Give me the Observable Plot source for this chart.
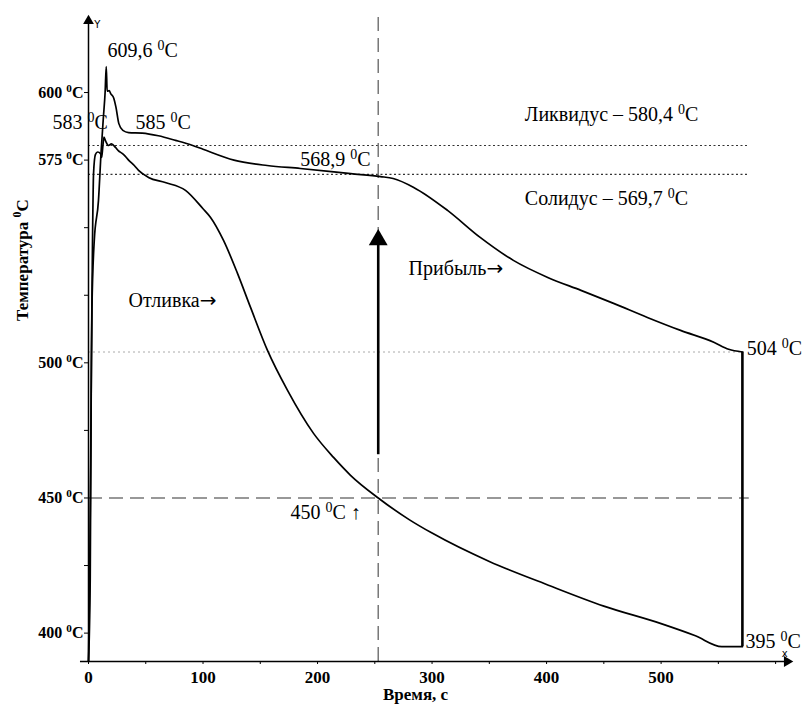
<!DOCTYPE html>
<html><head><meta charset="utf-8">
<script src="https://cdn.jsdelivr.net/npm/d3@7"></script>
<script src="https://cdn.jsdelivr.net/npm/@observablehq/plot@0.6"></script>
<style>html,body{margin:0;padding:0;background:#fff}</style>
</head><body><div id="chart"></div>
<script>
// Отливка (casting) — time, s / temperature, °C
const castTime = [0, 1.5, 2.5, 3.5, 4.4, 6, 8, 10.5, 11.5, 12.5, 13.5, 15, 17.5, 20, 23.6, 26, 29.7, 32, 35, 40, 43.7, 52.4, 67, 84.7, 100, 106.6, 117.9, 130.1, 141.5, 156.3, 173.8, 196.5, 214, 228.8, 253, 280, 300, 350, 400, 450, 500, 530, 553, 571];
const castTemp = [389.5, 420, 500, 545, 570, 577, 578, 577.4, 576, 580, 583.5, 582, 580.4, 581, 579.7, 578.5, 577.4, 576.5, 575, 573, 571.2, 568.6, 566.7, 563.8, 557, 553.8, 545.3, 533.1, 520.5, 504.6, 489.8, 473.9, 465, 458.4, 450, 442, 437, 426.5, 418, 410, 403.5, 399, 395, 395];
// Прибыль (riser)
const riserTime = [0, 1, 2, 3, 5, 8.7, 11, 13, 14.5, 15.5, 16.3, 18, 19.5, 22, 24, 26.5, 30, 35, 47, 61, 76, 91, 100, 127, 156, 185, 229, 255, 266, 284, 313.5, 342, 371, 401, 430, 458.5, 488, 517, 546, 559, 571];
const riserTemp = [389.5, 420, 470, 520, 545, 560, 578, 590.8, 600, 609.6, 600.5, 600.7, 599.5, 598, 594.5, 588.5, 586, 585.2, 585, 584, 582.3, 580.4, 579, 575, 573, 571.9, 570, 568.9, 568.2, 564.9, 556.4, 546.4, 537.9, 531.6, 526.8, 522, 516.8, 512, 507.6, 505, 504];

const xTickLabels = [0, 100, 200, 300, 400, 500];
const xMinorTicks = [0, 50, 100, 150, 200, 250, 300, 350, 400, 450, 500, 550, 600];
const yTickLabels = [400, 450, 500, 575, 600];
const yMinorTicks = [400, 425, 450, 475, 500, 525, 550, 575, 600];

const liquidus = 580.4, solidus = 569.7, riserEnd = 504, castEnd = 395, castMark = 450;
const markTime = 253, endTime = 571;

const annotations = [
  {t: 16.6, T: 615.5, s: "609,6 ⁰C"},
  {t: -31.4, T: 589, s: "583 ⁰C"},
  {t: 41, T: 589, s: "585 ⁰C"},
  {t: 185, T: 575.2, s: "568,9 ⁰C"},
  {t: 381, T: 591.9, s: "Ликвидус – 580,4 ⁰C"},
  {t: 381, T: 560.8, s: "Солидус – 569,7 ⁰C"},
  {t: 279.5, T: 535, s: "Прибыль→"},
  {t: 35, T: 523, s: "Отливка→"},
  {t: 574.7, T: 505.4, s: "504 ⁰C"},
  {t: 176.4, T: 444.7, s: "450 ⁰C ↑"},
  {t: 573.8, T: 396.8, s: "395 ⁰C"}
];

const cast = castTime.map((t, i) => ({t, T: castTemp[i]}));
const riser = riserTime.map((t, i) => ({t, T: riserTemp[i]}));

const yMin = 389.5, yMax = 628.5;

const chart = Plot.plot({
  width: 808, height: 704,
  marginLeft: 88, marginRight: 18, marginTop: 15, marginBottom: 43,
  x: {domain: [0, 613]},
  y: {domain: [yMin, yMax]},
  style: {fontFamily: "'Liberation Serif','Times New Roman',serif", fontSize: "18px", background: "#fff", color: "#000"},
  marks: [
    // reference lines
    Plot.ruleY([liquidus, solidus], {x1: 0, x2: 577, stroke: "#333", strokeDasharray: "2,2.5", strokeWidth: 1.2}),
    Plot.ruleY([riserEnd], {x1: 0, x2: endTime, stroke: "#aaa", strokeDasharray: "2,3", strokeWidth: 1}),
    Plot.ruleY([castMark], {x1: 0, x2: 577, stroke: "#777", strokeDasharray: "14,7", strokeWidth: 1.5}),
    Plot.ruleX([markTime], {y1: yMin, y2: yMax, stroke: "#777", strokeDasharray: "14,7", strokeWidth: 1.5}),
    // axes lines
    Plot.ruleX([0], {y1: yMin, y2: 626, stroke: "#000", strokeWidth: 1.5}),
    Plot.ruleY([yMin], {x1: -7, x2: 610, stroke: "#000", strokeWidth: 1.5}),
    Plot.dot([{t: 0, T: 626.5}], {x: "t", y: "T", symbol: "triangle", r: 4, fill: "#000", stroke: null}),
    Plot.dot([{t: 610, T: yMin}], {x: "t", y: "T", symbol: "triangle", r: 4, fill: "#000", stroke: null, rotate: 90}),
    Plot.axisY({ticks: yMinorTicks, tickSize: 4, tickFormat: () => "", label: null}),
    Plot.axisY({ticks: yTickLabels, tickSize: 0, tickPadding: 5, tickFormat: d => `${d} ⁰C`, fontWeight: "bold", fontSize: 16, label: null}),
    Plot.axisX({ticks: xMinorTicks, tickSize: 3, tickFormat: () => "", label: null}),
    Plot.axisX({ticks: xTickLabels, tickSize: 0, tickPadding: 9, fontWeight: "bold", fontSize: 17, label: null}),
    // curves
    Plot.line(cast, {x: "t", y: "T", stroke: "#000", strokeWidth: 1.7, curve: "monotone-x"}),
    Plot.line(riser, {x: "t", y: "T", stroke: "#000", strokeWidth: 1.7, curve: "monotone-x"}),
    Plot.ruleX([endTime], {y1: castEnd, y2: riserEnd, stroke: "#000", strokeWidth: 2.6}),
    // arrow at 253 s
    Plot.ruleX([markTime], {y1: 466, y2: 545, stroke: "#000", strokeWidth: 2.6}),
    Plot.dot([{t: markTime, T: 545.5}], {x: "t", y: "T", symbol: "triangle", r: 7, fill: "#000", stroke: null}),
    // annotations
    Plot.text(annotations, {x: "t", y: "T", text: "s", textAnchor: "start", fontSize: 20}),
    Plot.text(["Y"], {x: 5, y: 625, text: d => d, textAnchor: "start", fontSize: 10, fontFamily: "DejaVu Sans"}),
    Plot.text(["x"], {x: 608, y: 392.5, text: d => d, textAnchor: "middle", fontSize: 10, fontFamily: "DejaVu Sans"}),
    Plot.text(["Время, с"], {x: 285.6, y: yMin, text: d => d, dy: 33, fontWeight: "bold", fontSize: 17}),
    Plot.text(["Температура ⁰C"], {x: 0, y: 538, text: d => d, dx: -66, rotate: -90, fontWeight: "bold", fontSize: 17})
  ]
});

// superscript zero and long arrows
const NS = "http://www.w3.org/2000/svg";
chart.querySelectorAll("text").forEach(t => {
  const targets = t.querySelector("tspan") ? [...t.querySelectorAll("tspan")] : [t];
  targets.forEach(n => {
    const s = n.textContent;
    if (!s.includes("⁰") && !s.includes("→")) return;
    n.textContent = "";
    for (const ch of s) {
      if (ch === "⁰") {
        const sup = document.createElementNS(NS, "tspan");
        sup.setAttribute("baseline-shift", "super");
        sup.setAttribute("font-size", "70%");
        sup.textContent = "0";
        n.append(sup);
      } else if (ch === "→") {
        const ar = document.createElementNS(NS, "tspan");
        ar.setAttribute("font-family", "DejaVu Sans");
        ar.textContent = "→";
        n.append(ar);
      } else {
        n.append(ch);
      }
    }
  });
});
document.getElementById("chart").append(chart);
</script>
</body></html>
